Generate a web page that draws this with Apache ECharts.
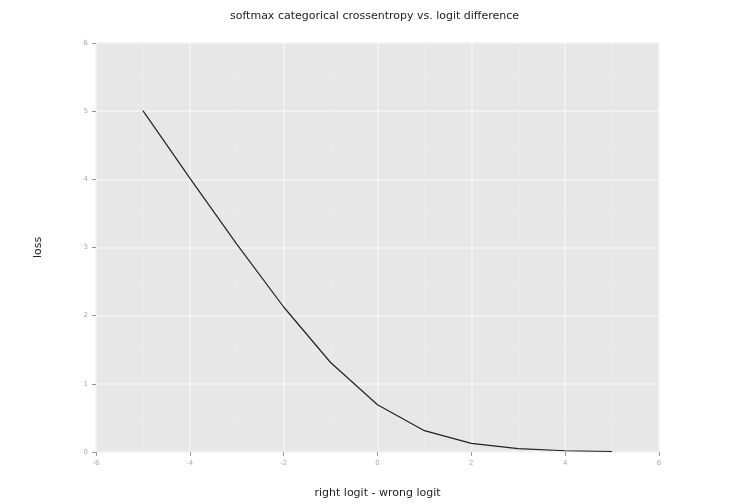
<!DOCTYPE html>
<html>
<head>
<meta charset="utf-8">
<script src="https://cdn.jsdelivr.net/npm/echarts@6/dist/echarts.min.js"></script>
<style>
  html, body { margin: 0; padding: 0; background: #fff; }
  #chart { width: 749px; height: 504px; }
</style>
</head>
<body>
<div id="chart"></div>
<script>
// logit difference (right - wrong) and the resulting loss
const logitDiff = [-5, -4, -3, -2, -1, 0, 1, 2, 3, 4, 5];
const loss = [5.007, 4.018, 3.049, 2.127, 1.313, 0.693, 0.313, 0.127, 0.049, 0.018, 0.007];

const chart = echarts.init(document.getElementById('chart'));

const axisLabelStyle = { color: '#aaa', fontSize: 7, fontFamily: 'DejaVu Sans' };

const option = {
  animation: false,
  title: {
    text: 'softmax categorical crossentropy vs. logit difference',
    left: 'center',
    top: 6,
    textStyle: { fontSize: 11, fontWeight: 'normal', color: '#222', fontFamily: 'DejaVu Sans' }
  },
  grid: { left: 96, right: 90, top: 43, bottom: 51, show: true, backgroundColor: '#e7e7e7', borderWidth: 0 },
  xAxis: {
    type: 'value',
    min: -6, max: 6, interval: 2,
    name: 'right logit - wrong logit',
    nameLocation: 'middle',
    nameGap: 36,
    nameTextStyle: { fontSize: 11, color: '#222', fontFamily: 'DejaVu Sans' },
    axisLine: { show: false, onZero: false },
    axisTick: { show: true, length: 4, lineStyle: { color: '#999' } },
    axisLabel: axisLabelStyle,
    splitLine: { show: true, lineStyle: { color: '#f4f4f4', width: 1.5 } },
    minorTick: { show: false, splitNumber: 2 },
    minorSplitLine: { show: true, lineStyle: { color: '#ececec', width: 1 } }
  },
  yAxis: {
    type: 'value',
    min: 0, max: 6, interval: 1,
    name: 'loss',
    nameLocation: 'middle',
    nameGap: 52,
    nameTextStyle: { fontSize: 11, color: '#222', fontFamily: 'DejaVu Sans' },
    axisLine: { show: false, onZero: false },
    axisTick: { show: true, length: 4, lineStyle: { color: '#999' } },
    axisLabel: axisLabelStyle,
    splitLine: { show: true, lineStyle: { color: '#f4f4f4', width: 1.5 } },
    minorTick: { show: false, splitNumber: 2 },
    minorSplitLine: { show: true, lineStyle: { color: '#ececec', width: 1 } }
  },
  series: [{
    type: 'line',
    data: logitDiff.map((x, i) => [x, loss[i]]),
    showSymbol: false,
    lineStyle: { color: '#222', width: 1.2 }
  }]
};

chart.setOption(option);
</script>
</body>
</html>
